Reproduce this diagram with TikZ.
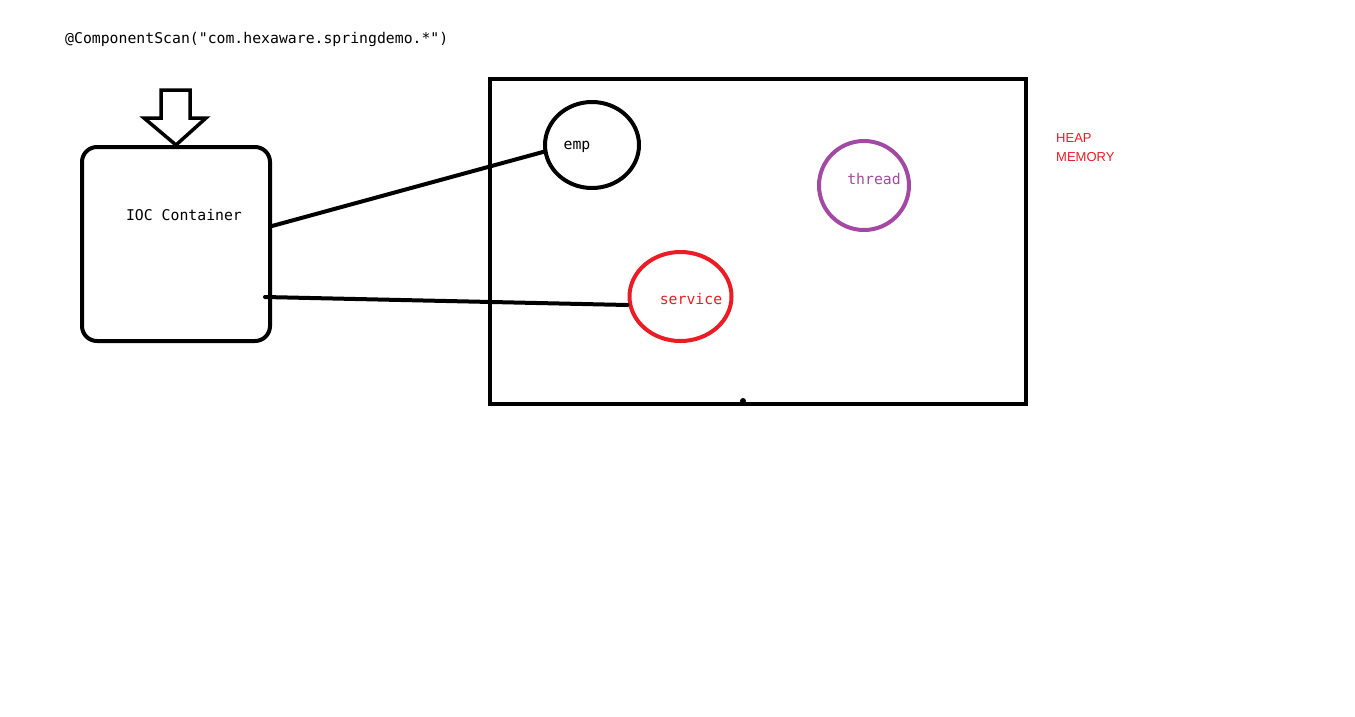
\documentclass[tikz,border=0pt]{standalone}
\usepackage{fontspec}
\newfontfamily\codefont{DejaVu Sans Mono}
\newfontfamily\heapfont{Liberation Sans}
\definecolor{paintred}{HTML}{ED1C24}
\definecolor{paintpurple}{HTML}{A349A4}
\usetikzlibrary{shapes.geometric}
\tikzset{
  thick line/.style={line width=4pt, line cap=round, line join=round},
  codetext/.style={font=\codefont\fontsize{14.8}{16}\selectfont, inner sep=0pt},
  blob/.style={ellipse, draw, line width=4pt, inner sep=0pt},
}
\begin{document}
\begin{tikzpicture}[x=1pt,y=-1pt]
\useasboundingbox (0,0) rectangle (1355,716);
% title
\node[codetext, anchor=west] (scan) at (65,39) {@ComponentScan("com.hexaware.springdemo.*")};
% IOC container
\node[draw, line width=4pt, rounded corners=15pt, minimum width=188pt, minimum height=194pt, inner sep=0pt] (ioc) at (176,244) {};
\node[codetext] (ioclabel) at (184,215) {IOC Container};
% hollow block arrow
\draw[line width=3.5pt, line join=miter] (161,90) -- (190,90) -- (190,118) -- (206,118) -- (ioc.north) -- (144,118) -- (161,118) -- cycle;
% heap
\node[draw, line width=4.5pt, minimum width=536pt, minimum height=325pt, inner sep=0pt] (heap) at (758,241.5) {};
\fill (743,401) circle (3pt);
\node[text=paintred, font=\heapfont\fontsize{13}{19}\selectfont, align=left, anchor=north west, inner sep=0pt] (heaplabel) at (1056,133) {HEAP\\MEMORY};
% beans
\node[blob, minimum width=94pt, minimum height=86pt] (emp) at (592,145) {};
\node[codetext] (emplabel) at (577,147) {emp};
\node[blob, draw=paintpurple, minimum width=90pt, minimum height=89pt] (thread) at (864,185.5) {};
\node[codetext, text=paintpurple] (threadlabel) at (874,179) {thread};
\node[blob, draw=paintred, minimum width=102pt, minimum height=89pt] (service) at (680.5,296.5) {};
\node[codetext, text=paintred] (servicelabel) at (691,299) {service};
% connectors
\coordinate (c1) at ([yshift=18pt]ioc.east);
\coordinate (c2) at ([xshift=-7pt,yshift=-53pt]ioc.east);
\draw[thick line] (c1) -- (emp.188);
\draw[thick line] (c2) -- (service.west |- 0,305);
\end{tikzpicture}
\end{document}
